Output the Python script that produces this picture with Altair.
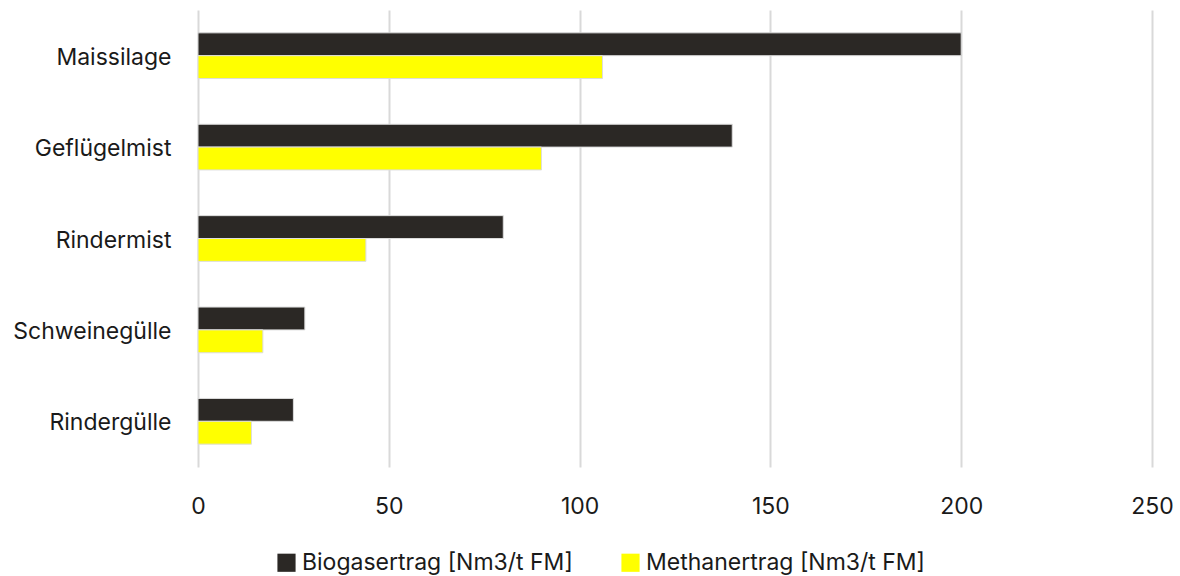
import altair as alt
import pandas as pd

categories = ["Maissilage", "Geflügelmist", "Rindermist", "Schweinegülle", "Rindergülle"]
biogas = [200, 140, 80, 28, 25]
methan = [106, 90, 44, 17, 14]
series = ["Biogasertrag [Nm3/t FM]", "Methanertrag [Nm3/t FM]"]
colors = ["#2b2825", "#ffff00"]

rows = []
for c, b, m in zip(categories, biogas, methan):
    rows.append({"cat": c, "series": series[0], "value": b})
    rows.append({"cat": c, "series": series[1], "value": m})
df = pd.DataFrame(rows)

FONT = "Inter"
FS = 23

chart = alt.Chart(df).mark_bar(stroke="#dcdcdc", strokeWidth=1).encode(
    x=alt.X("value:Q", scale=alt.Scale(domain=[0, 250], nice=False),
            axis=alt.Axis(values=[0, 50, 100, 150, 200, 250], title=None, domain=False,
                          ticks=False, labelPadding=28, labelFontSize=FS, labelColor="#1a1a1a",
                          labelFont=FONT, labelFlush=False, grid=True, gridColor="#d9d9d9",
                          gridWidth=2)),
    y=alt.Y("cat:N", sort=categories,
            scale=alt.Scale(paddingInner=0.5, paddingOuter=0.25),
            axis=alt.Axis(title=None, domain=False, ticks=False, labelPadding=27,
                          labelFontSize=FS, labelColor="#1a1a1a", labelFont=FONT,
                          labelOffset=2)),
    yOffset=alt.YOffset("series:N", sort=series),
    color=alt.Color("series:N", sort=series,
                    scale=alt.Scale(domain=series, range=colors),
                    legend=alt.Legend(title=None, orient="none", direction="horizontal",
                                      legendX=77, legendY=84 + 457, labelFontSize=FS,
                                      labelFont=FONT, labelColor="#1a1a1a",
                                      symbolType="square", symbolSize=330,
                                      symbolStrokeWidth=0, columnPadding=46,
                                      labelLimit=400)),
).properties(
    width=954, height=457,
    autosize=alt.AutoSizeParams(type="none"),
    padding={"left": 198, "top": 10, "right": 28, "bottom": 109},
).configure_view(stroke=None)

chart.save("out.html", embed_options={"renderer": "svg", "actions": False})
